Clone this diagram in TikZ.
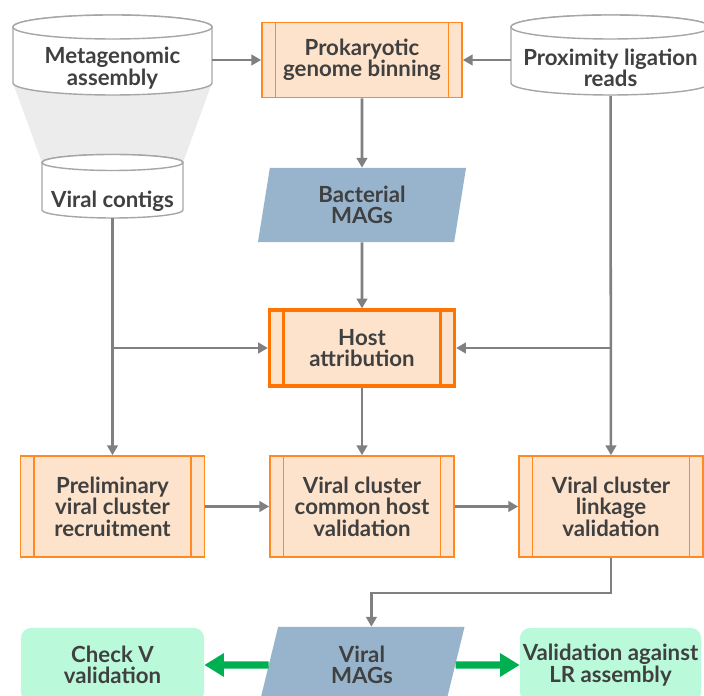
\documentclass[tikz,border=0pt]{standalone}
\usepackage{fontspec}
\setmainfont{Lato}
\usetikzlibrary{arrows.meta,shapes.geometric}

\definecolor{textgray}{HTML}{404040}
\definecolor{linegray}{HTML}{808080}
\definecolor{cangray}{HTML}{A6A6A6}
\definecolor{funnelgray}{HTML}{ECECEC}
\definecolor{procorange}{HTML}{FF8A22}
\definecolor{hostorange}{HTML}{FF7300}
\definecolor{procfill}{HTML}{FDE3CC}
\definecolor{datablue}{HTML}{97B4CC}
\definecolor{resultgreen}{HTML}{BAFADA}
\definecolor{arrowgreen}{HTML}{00B050}

\begin{document}
\begin{tikzpicture}[x=0.025cm,y=0.025cm,
  every node/.style={text=textgray, align=center, inner sep=0pt,
    font={\fontsize{15.8}{15.2}\selectfont\bfseries}},
  store/.style={minimum width=4.975cm, minimum height=1.375cm},
  can/.style={draw=cangray, fill=white, line width=1pt},
  proc/.style={draw=procorange, fill=procfill, line width=1.1pt,
    minimum width=4.6cm, minimum height=2.525cm,
    path picture={\draw[draw=procorange, line width=1.3pt]
      ([xshift=0.34cm]path picture bounding box.north west) -- ([xshift=0.34cm]path picture bounding box.south west)
      ([xshift=-0.34cm]path picture bounding box.north east) -- ([xshift=-0.34cm]path picture bounding box.south east);}},
  hostbox/.style={draw=hostorange, fill=procfill, line width=2.2pt,
    minimum width=4.625cm, minimum height=1.9cm,
    path picture={\draw[draw=hostorange, line width=2.2pt]
      ([xshift=0.35cm]path picture bounding box.north west) -- ([xshift=0.35cm]path picture bounding box.south west)
      ([xshift=-0.35cm]path picture bounding box.north east) -- ([xshift=-0.35cm]path picture bounding box.south east);}},
  data/.style={trapezium, trapezium stretches body, fill=datablue},
  result/.style={fill=resultgreen, rounded corners=0.25cm, minimum height=1.85cm},
  link/.style={draw=linegray, line width=1.8pt, -{Triangle[length=7pt,width=7.5pt]}},
  bigarrow/.style={draw=arrowgreen, line width=5pt, -{Triangle[length=14pt,width=16pt]}}]

\useasboundingbox (0,0) rectangle (704,696);
\clip (0,0) rectangle (704,696);

% funnel and the three stores
\fill[funnelgray] (13,613) -- (212,613) -- (183,533.5) -- (42,533.5) -- cycle;

\filldraw[can] (13,669) -- (13,613) arc[start angle=180,end angle=360,x radius=99.5,y radius=12]
  -- (212,669) arc[start angle=0,end angle=180,x radius=99.5,y radius=12] -- cycle;
\draw[can] (112.5,669) ellipse[x radius=99.5,y radius=12];

\filldraw[can] (42,533.5) -- (42,486) arc[start angle=180,end angle=360,x radius=70.5,y radius=8]
  -- (183,533.5) arc[start angle=0,end angle=180,x radius=70.5,y radius=8] -- cycle;
\draw[can] (112.5,533.5) ellipse[x radius=70.5,y radius=8];

\filldraw[can] (511,669) -- (511,613) arc[start angle=180,end angle=360,x radius=99.5,y radius=12]
  -- (710,669) arc[start angle=0,end angle=180,x radius=99.5,y radius=12] -- cycle;
\draw[can] (610.5,669) ellipse[x radius=99.5,y radius=12];

\node[store] (meta) at (112.5,628) {Metagenomic\\assembly};
\node[store, minimum width=3.525cm, minimum height=0.85cm] (contig) at (112.5,495) {Viral contigs};
\node[store] (reads) at (610.5,628) {Proximity ligation\\reads};

% processes
\node[proc, minimum width=5cm, minimum height=1.875cm] (bin) at (362,636) {Prokaryotic\\genome binning};
\node[data, trapezium left angle=72.7, trapezium right angle=107.3,
  minimum width=5.2cm, minimum height=1.85cm] (bmag) at (362,491) {Bacterial\\MAGs};
\node[hostbox] (host) at (362,348) {Host\\attribution};

\node[proc] (prelim) at (112.5,189.5) {Preliminary\\viral cluster\\recruitment};
\node[proc] (common) at (362,189.5) {Viral cluster\\common host\\validation};
\node[proc] (linkage) at (611,189.5) {Viral cluster\\linkage\\validation};

\node[data, trapezium left angle=63.9, trapezium right angle=116.1,
  minimum width=5.125cm, minimum height=1.9cm] (vmag) at (362,31) {Viral\\MAGs};
\node[result, minimum width=4.575cm] (check) at (112.5,31) {Check V\\validation};
\node[result, minimum width=4.525cm] (lr) at (610.5,31) {Validation against\\LR assembly};

% connectors
\draw[link] (meta.east |- bin) -- (bin);
\draw[link] (reads.west |- bin) -- (bin);
\draw[link] (bin) -- (bmag);
\draw[link] (bmag) -- (host);
\draw[link] (contig) -- (prelim);
\draw[link] (reads) -- (linkage);
\draw[link] (contig |- host) -- (host);
\draw[link] (reads |- host) -- (host);
\draw[link] (host) -- (common);
\draw[link] (prelim) -- (common);
\draw[link] (common) -- (linkage);
\draw[link] (linkage.south) -- ++(0,-35) -| (vmag.top side);

\draw[bigarrow] (vmag) -- (check);
\draw[bigarrow] (vmag) -- (lr);

\end{tikzpicture}
\end{document}
